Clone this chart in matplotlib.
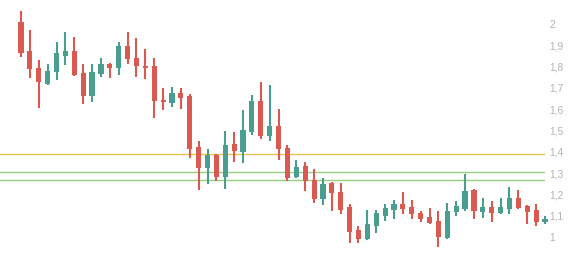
import matplotlib
matplotlib.use("Agg")
import matplotlib.pyplot as plt
import numpy as np

open_ = [2.009, 1.873, 1.794, 1.720, 1.774, 1.851, 1.873, 1.770, 1.664, 1.766,
         1.812, 1.796, 1.897, 1.841, 1.803, 1.803, 1.644, 1.631, 1.677, 1.664,
         1.422, 1.326, 1.386, 1.284, 1.437, 1.401, 1.494, 1.639, 1.476, 1.522,
         1.417, 1.283, 1.333, 1.269, 1.181, 1.253, 1.212, 1.142, 1.034, 0.991,
         1.054, 1.101, 1.129, 1.156, 1.142, 1.115, 1.095, 1.078, 0.998, 1.119,
         1.134, 1.222, 1.120, 1.142, 1.115, 1.134, 1.184, 1.147, 1.129, 1.072]
close = [1.865, 1.790, 1.727, 1.780, 1.864, 1.873, 1.762, 1.664, 1.775, 1.812,
         1.795, 1.899, 1.834, 1.805, 1.796, 1.639, 1.634, 1.678, 1.653, 1.413,
         1.326, 1.387, 1.283, 1.433, 1.406, 1.503, 1.639, 1.476, 1.522, 1.415,
         1.277, 1.330, 1.266, 1.180, 1.250, 1.209, 1.129, 1.026, 0.993, 1.062,
         1.114, 1.137, 1.156, 1.131, 1.108, 1.087, 1.068, 1.000, 1.123, 1.147,
         1.217, 1.125, 1.142, 1.115, 1.142, 1.184, 1.139, 1.120, 1.070, 1.087]
high = [2.061, 1.972, 1.831, 1.812, 1.916, 1.962, 1.939, 1.812, 1.812, 1.841,
        1.817, 1.914, 1.961, 1.933, 1.883, 1.841, 1.700, 1.705, 1.700, 1.672,
        1.451, 1.415, 1.391, 1.498, 1.494, 1.597, 1.667, 1.728, 1.714, 1.601,
        1.433, 1.362, 1.353, 1.319, 1.278, 1.261, 1.256, 1.156, 1.053, 1.128,
        1.128, 1.156, 1.175, 1.212, 1.175, 1.123, 1.137, 1.123, 1.161, 1.170,
        1.298, 1.226, 1.184, 1.170, 1.184, 1.236, 1.222, 1.151, 1.156, 1.101]
low = [1.847, 1.748, 1.608, 1.715, 1.736, 1.806, 1.755, 1.626, 1.636, 1.753,
       1.748, 1.763, 1.812, 1.752, 1.742, 1.559, 1.597, 1.611, 1.601, 1.373,
       1.223, 1.248, 1.264, 1.225, 1.354, 1.347, 1.480, 1.462, 1.453, 1.364,
       1.264, 1.280, 1.219, 1.163, 1.153, 1.122, 1.108, 0.975, 0.972, 0.986,
       1.022, 1.075, 1.084, 1.108, 1.084, 1.070, 1.064, 0.956, 0.993, 1.101,
       1.125, 1.087, 1.092, 1.073, 1.108, 1.108, 1.134, 1.064, 1.052, 1.064]

hlines = [1.39, 1.308, 1.267]
hline_colors = ["#e8c24e", "#96cf7f", "#96cf7f"]

yticks = [1.0, 1.1, 1.2, 1.3, 1.4, 1.5, 1.6, 1.7, 1.8, 1.9, 2.0]
ytick_labels = ["1", "1,1", "1,2", "1,3", "1,4", "1,5", "1,6", "1,7", "1,8", "1,9", "2"]

RED = "#da5a52"
TEAL = "#4a9e8f"

plt.rcParams["font.family"] = ["Liberation Sans", "DejaVu Sans"]

fig = plt.figure(figsize=(5.84, 2.58), dpi=100)
ax = fig.add_axes([0, 0, 545 / 584, 1])

x = np.arange(len(open_))
o = np.array(open_)
c = np.array(close)
h = np.array(high)
l = np.array(low)
colors = [RED if cc < oo else TEAL for oo, cc in zip(o, c)]

for yv, col in zip(hlines, hline_colors):
    ax.axhline(yv, color=col, lw=1.0, zorder=1)

ax.vlines(x, l, h, colors=colors, lw=1.5, zorder=2, clip_on=False)
bottoms = np.minimum(o, c)
heights = np.maximum(np.abs(c - o), 0.004)
ax.bar(x, heights, bottom=bottoms, width=0.58, color=colors, zorder=3,
       linewidth=0, clip_on=False)

ax.set_xlim(-2.365, 59.0)
ax.set_ylim(0.903, 2.1125)
ax.set_xticks([])
ax.yaxis.tick_right()
ax.set_yticks(yticks)
ax.set_yticklabels(ytick_labels)
ax.tick_params(axis="y", length=0, pad=3, labelsize=7.4, labelcolor="#b3b3b3")
for s in ax.spines.values():
    s.set_visible(False)
ax.set_facecolor("white")

fig.savefig("out.png", dpi=100, facecolor="white")
